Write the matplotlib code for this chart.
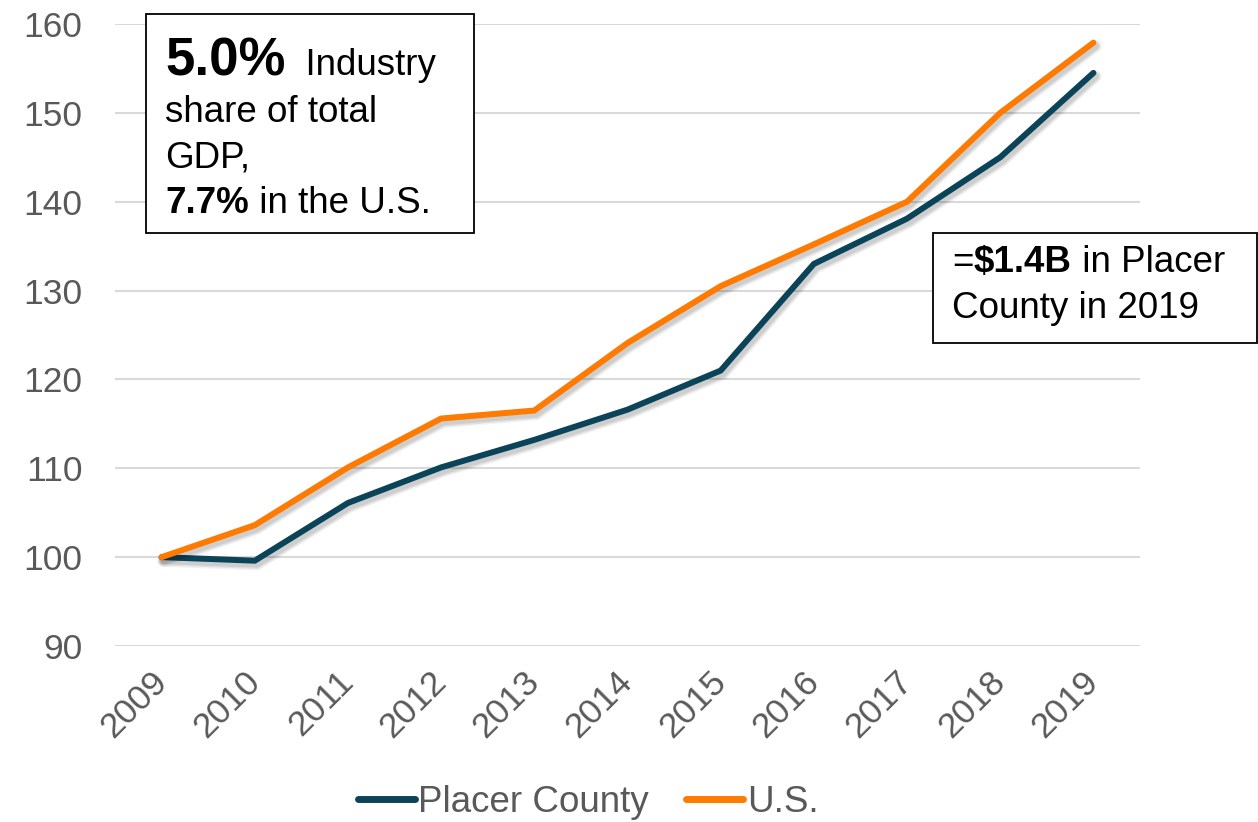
import matplotlib
matplotlib.use("Agg")
import matplotlib.pyplot as plt
import matplotlib.patheffects as pe
from matplotlib.patches import Rectangle

years = ["2009", "2010", "2011", "2012", "2013", "2014", "2015", "2016", "2017", "2018", "2019"]
placer = [100, 99.6, 106.1, 110.1, 113.2, 116.6, 121.0, 133.0, 138.1, 145.0, 154.5]
us = [100, 103.6, 110.1, 115.6, 116.5, 124.1, 130.5, 135.2, 140.0, 150.0, 157.9]
series_names = ["Placer County", "U.S."]
yticks = [90, 100, 110, 120, 130, 140, 150, 160]

plt.rcParams['font.family'] = ['Liberation Sans', 'DejaVu Sans']

W, H = 1258, 822
fig = plt.figure(figsize=(W / 100, H / 100), dpi=100)
ax = fig.add_axes([115 / W, 1 - 646 / H, (1140 - 115) / W, (646 - 24) / H])

x = list(range(len(years)))
shadow = [pe.SimpleLineShadow(offset=(1.5, -2.5), shadow_color='black', alpha=0.05, linewidth=9),
          pe.SimpleLineShadow(offset=(1.5, -2.5), shadow_color='black', alpha=0.07, linewidth=7),
          pe.SimpleLineShadow(offset=(1.5, -2.5), shadow_color='black', alpha=0.08, linewidth=5),
          pe.Normal()]
l1, = ax.plot(x, placer, color='#0B4459', lw=4.3, solid_capstyle='round', solid_joinstyle='miter',
              path_effects=shadow, label=series_names[0], zorder=3)
l2, = ax.plot(x, us, color='#FF7A00', lw=4.3, solid_capstyle='round', solid_joinstyle='miter',
              path_effects=shadow, label=series_names[1], zorder=4)

ax.set_xlim(-0.5, len(years) - 0.5)
ax.set_ylim(90, 160)
ax.set_yticks(yticks)
ax.set_xticks(x)
ax.set_xticklabels(years, rotation=45, ha='right', va='center', rotation_mode='anchor')
ax.tick_params(axis='both', length=0, labelsize=25.5, labelcolor='#595959')
ax.tick_params(axis='y', pad=23.5)
ax.tick_params(axis='x', pad=22)
for s in ax.spines.values():
    s.set_visible(False)
ax.grid(axis='y', color='#D9D9D9', lw=1.5)
ax.set_axisbelow(True)

leg = fig.legend(handles=[l1, l2], loc='center', bbox_to_anchor=(588 / W, 1 - 802 / H), ncol=2,
                 frameon=False, fontsize=26.5, handlelength=1.55, handletextpad=0.1, columnspacing=1.0,
                 labelcolor='#595959')
for h in leg.get_lines():
    h.set_linewidth(5)
    h.set_path_effects([])

# annotation boxes
def px(xp, yp):
    return (xp / W, 1 - yp / H)

fig.patches.append(Rectangle(px(146, 233), (474 - 146) / W, (233 - 14) / H, transform=fig.transFigure,
                             facecolor='white', edgecolor='black', lw=1.3, zorder=5))
fig.patches.append(Rectangle(px(933, 343), (1257 - 933) / W, (343 - 233) / H, transform=fig.transFigure,
                             facecolor='white', edgecolor='black', lw=1.3, zorder=5))

fig.canvas.draw()
renderer = fig.canvas.get_renderer()

def rich(xp, yp, parts):
    cur = xp / W
    for txt, size, bold in parts:
        t = fig.text(cur, 1 - yp / H, txt, fontsize=size, fontweight='bold' if bold else 'normal',
                     color='black', va='baseline', ha='left', zorder=6)
        bb = t.get_window_extent(renderer)
        cur = bb.x1 / W

rich(165, 75, [("5.0%", 38, True), ("  Industry", 26.5, False)])
rich(165, 122, [("share of total", 26.5, False)])
rich(165, 168, [("GDP,", 26.5, False)])
rich(165, 213, [("7.7%", 26.5, True), (" in the U.S.", 26.5, False)])
rich(952, 272, [("=", 26.5, False), ("$1.4B", 26.5, True), (" in Placer", 26.5, False)])
rich(952, 318, [("County in 2019", 26.5, False)])

fig.savefig("out.png", dpi=100)
